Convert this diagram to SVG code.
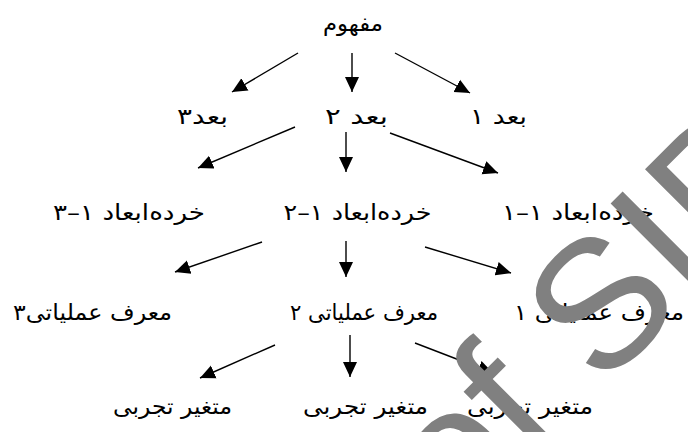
<svg xmlns="http://www.w3.org/2000/svg" width="688" height="432" viewBox="0 0 688 432">
<defs>
<marker id="ah" markerUnits="userSpaceOnUse" markerWidth="16" markerHeight="16" viewBox="0 0 16 16" refX="15" refY="8" orient="auto">
<path d="M0,1 L15,8 L0,15 Z" fill="#000"/>
</marker>
<style>
.t{font-family:"DejaVu Sans",sans-serif;font-size:22px;fill:#000;text-anchor:middle;direction:rtl;unicode-bidi:embed}
.c{stroke:#000;stroke-width:1.4;fill:none;marker-end:url(#ah)}
.wm{font-family:"Liberation Sans",Arial,sans-serif;font-size:182px;fill:#808080}
</style>
</defs>
<rect width="688" height="432" fill="#fff"/>
<g id="n0"><text class="t" x="353" y="31" textLength="60" lengthAdjust="spacingAndGlyphs">مفهوم</text></g>
<g id="n1"><text class="t" x="202.5" y="124" textLength="51" lengthAdjust="spacingAndGlyphs">بعد۳</text></g>
<g id="n2"><text class="t" x="356.5" y="124" textLength="63" lengthAdjust="spacingAndGlyphs">بعد ۲</text></g>
<g id="n3"><text class="t" x="498.5" y="124" textLength="57" lengthAdjust="spacingAndGlyphs">بعد ۱</text></g>
<g id="n4"><text class="t" x="129" y="220" textLength="152" lengthAdjust="spacingAndGlyphs">خرده‌ابعاد ۱–۳</text></g>
<g id="n5"><text class="t" x="357.5" y="220" textLength="148" lengthAdjust="spacingAndGlyphs">خرده‌ابعاد ۱–۲</text></g>
<g id="n6"><text class="t" x="578" y="220" textLength="152" lengthAdjust="spacingAndGlyphs">خرده‌ابعاد ۱–۱</text></g>
<g id="n7"><text class="t" x="92.5" y="320" textLength="159" lengthAdjust="spacingAndGlyphs">معرف عملیاتی۳</text></g>
<g id="n8"><text class="t" x="364" y="320" textLength="148" lengthAdjust="spacingAndGlyphs">معرف عملیاتی ۲</text></g>
<g id="n9"><text class="t" x="599" y="320" textLength="170" lengthAdjust="spacingAndGlyphs">معرف عملیاتی ۱</text></g>
<g id="n10"><text class="t" x="172.5" y="414" textLength="119" lengthAdjust="spacingAndGlyphs">متغیر تجربی</text></g>
<g id="n11"><text class="t" x="365.5" y="414" textLength="125" lengthAdjust="spacingAndGlyphs">متغیر تجربی</text></g>
<g id="n12"><text class="t" x="530" y="414" textLength="126" lengthAdjust="spacingAndGlyphs">متغیر تجربی</text></g>
<g id="connectors">
<line class="c" x1="298" y1="53" x2="232" y2="92"/>
<line class="c" x1="352" y1="53" x2="352" y2="92"/>
<line class="c" x1="395" y1="53" x2="470" y2="93"/>
<line class="c" x1="295" y1="127" x2="198" y2="168"/>
<line class="c" x1="346" y1="132" x2="346" y2="172"/>
<line class="c" x1="390" y1="133" x2="498" y2="173"/>
<line class="c" x1="262" y1="242" x2="175" y2="272"/>
<line class="c" x1="346" y1="241" x2="346" y2="277"/>
<line class="c" x1="425" y1="247" x2="511" y2="273"/>
<line class="c" x1="275" y1="345" x2="200" y2="378"/>
<line class="c" x1="350" y1="335" x2="350" y2="377"/>
<line class="c" x1="415" y1="343" x2="493" y2="373"/>
</g>
<g id="watermark"><text class="wm" transform="translate(-6.6 997.9) rotate(-45)">Archive of SID</text></g>
</svg>
